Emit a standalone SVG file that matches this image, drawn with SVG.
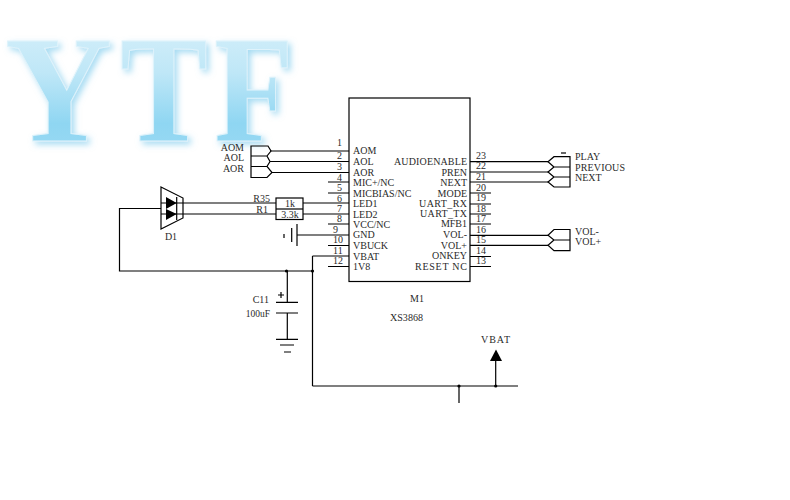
<svg xmlns="http://www.w3.org/2000/svg" width="790" height="500" viewBox="0 0 790 500">
<style>
text{font-family:"Liberation Serif","Times New Roman",serif;font-size:10px;fill:#2a2a2a}
.r{text-anchor:end}.m{text-anchor:middle}
.l{fill:none;stroke:#000;stroke-width:1.2}
.b{fill:#000}
.logo{font-size:153px;font-weight:bold;fill:url(#lg);stroke:#dff3fb;stroke-width:1}
</style>
<defs>
<linearGradient id="lg" x1="0" y1="0" x2="0" y2="1"><stop offset="0" stop-color="#dcf2fb"/><stop offset=".4" stop-color="#bfe7f7"/><stop offset=".7" stop-color="#8fd6f2"/><stop offset="1" stop-color="#a0dbf4"/></linearGradient>
<filter id="sh" x="-10%" y="-10%" width="125%" height="125%"><feGaussianBlur in="SourceAlpha" stdDeviation="3"/><feOffset dx="3" dy="3"/><feFlood flood-color="#6cc4ea" flood-opacity=".6" result="c"/><feGaussianBlur in="SourceAlpha" stdDeviation="3" result="a"/><feOffset in="a" dx="3" dy="3" result="o"/><feComposite in="c" in2="o" operator="in" result="s"/><feMerge><feMergeNode in="s"/><feMergeNode in="SourceGraphic"/></feMerge></filter>
</defs>
<rect width="790" height="500" fill="#fff"/>
<g id="logo" filter="url(#sh)">
<text class="logo" transform="translate(5 141) scale(.97 1)">Y</text>
<text class="logo" transform="translate(120 141) scale(.86 1)">T</text>
<text class="logo" transform="translate(214 141) scale(.85 1)">F</text>
</g>
<g id="connectors">
<path class="l" d="M270 151H349M270 161.5H349M272 172.5H349M328 182H349M328 193H349M161 203H276M303 203H349M161 214H276M303 214H349M328 224H349M297 235H349M328 245.5H349M312.5 256H349M328 266.5H349"/>
<path class="l" d="M470 161.7H548M470 172H548M470 182H548M470 193H491M470 204H491M470 214H491M470 224H491M470 235.3H548M470 245.3H548M470 256.5H491M470 266.5H491"/>
<path class="l" d="M161 208.5H119.5V271H312.5M312.5 256V386M312.5 386H518M459 386V403M495.7 386V360M287.3 271V302M287.3 313V339"/>
<circle class="b" cx="286.5" cy="271" r="1.6"/><circle class="b" cx="312.5" cy="271" r="1.6"/><circle class="b" cx="459" cy="386" r="1.6"/><circle class="b" cx="495.7" cy="386" r="1.6"/>
</g>
<g id="M1">
<rect class="l" x="349" y="98" width="121" height="183.5"/>
<text x="337" y="146">1</text><text x="337" y="158.5">2</text><text x="337" y="170">3</text><text x="337" y="180.5">4</text><text x="337" y="191">5</text><text x="337" y="201.5">6</text><text x="337" y="211.5">7</text><text x="337" y="221.5">8</text><text x="333" y="232.5">9</text><text x="333" y="243">10</text><text x="333" y="253.5">11</text><text x="333" y="264">12</text>
<text x="353" y="154">AOM</text><text x="353" y="165">AOL</text><text x="353" y="176">AOR</text><text x="353" y="186">MIC+/NC</text><text x="353" y="196.5">MICBIAS/NC</text><text x="353" y="207">LED1</text><text x="353" y="218">LED2</text><text x="353" y="228">VCC/NC</text><text x="353" y="238">GND</text><text x="353" y="249">VBUCK</text><text x="353" y="259.5">VBAT</text><text x="353" y="270">1V8</text>
<text x="394" y="165" textLength="73" lengthAdjust="spacing">AUDIOENABLE</text>
<text class="r" x="467" y="176">PREN</text><text class="r" x="467" y="186">NEXT</text><text class="r" x="467" y="197">MODE</text><text x="419" y="206.5" textLength="48" lengthAdjust="spacing">UART_RX</text><text x="420" y="217" textLength="47" lengthAdjust="spacing">UART_TX</text><text class="r" x="467" y="227">MFB1</text><text class="r" x="467" y="238">VOL-</text><text class="r" x="467" y="248.5">VOL+</text><text class="r" x="467" y="259">ONKEY</text><text x="415" y="270" textLength="52" lengthAdjust="spacing">RESET NC</text>
<text x="476" y="158.5">23</text><text x="476" y="169">22</text><text x="476" y="179.5">21</text><text x="476" y="191">20</text><text x="476" y="201">19</text><text x="476" y="211.5">18</text><text x="476" y="222">17</text><text x="476" y="233">16</text><text x="476" y="243">15</text><text x="476" y="254">14</text><text x="476" y="264">13</text>
<text class="m" x="417" y="302">M1</text><text x="390" y="320.5" textLength="33" lengthAdjust="spacingAndGlyphs">XS3868</text>
</g>
<g id="J-audio">
<path class="l" d="M251 146H268L271 151L267 156L270 161.5L267 166.5L272 172.5L267 177.5H251ZM251 156H267M251 166.5H267"/>
<text class="r" x="244" y="151">AOM</text><text class="r" x="244" y="161">AOL</text><text class="r" x="244" y="172">AOR</text>
</g>
<g id="J-keys">
<path class="l" d="M570 156.7H554L548 161.7L554 167L548 172L554 177L548 182L554 187H570ZM554 167H570M554 177H570"/>
<path class="l" d="M561 153H566"/>
<text x="575" y="160">PLAY</text><text x="575" y="171" textLength="50" lengthAdjust="spacing">PREVIOUS</text><text x="575" y="181">NEXT</text>
</g>
<g id="J-vol">
<path class="l" d="M570 229.5H554L548 235.3L554 240L548 245.3L554 250.7H570ZM554 240H570"/>
<text x="575" y="234.5">VOL-</text><text x="575" y="245">VOL+</text>
</g>
<g id="D1">
<path class="l" d="M161 187L183 198V218L161 229Z"/>
<path class="b" d="M166 197L176.7 203L166 209ZM166 209L176.7 214L166 220Z"/>
<path class="l" d="M176.7 197V220"/>
<text class="m" x="171" y="240">D1</text>
</g>
<g id="R35-R1">
<rect class="l" x="276" y="198" width="27" height="21.5"/>
<path class="l" d="M276 209H303"/>
<text class="r" x="270" y="201.5">R35</text><text class="r" x="268" y="212.5">R1</text>
<text class="m" x="290" y="207">1k</text><text class="m" x="290" y="218">3.3k</text>
</g>
<g id="BT">
<path class="l" d="M297 224V246M291.7 228V242M284 234V238"/>
</g>
<g id="C11">
<path class="l" d="M276 302.3H298M276 313H298M276 339.3H298M280 345H294M284 352H291M278 295H284M281 292V298"/>
<text class="r" x="269" y="302.5">C11</text><text class="r" x="270" y="317" style="font-size:9.5px">100uF</text>
</g>
<g id="VBAT">
<path class="b" d="M496 349.5L502 361H490Z"/>
<text x="481" y="343" textLength="29" lengthAdjust="spacing">VBAT</text>
</g>
</svg>
